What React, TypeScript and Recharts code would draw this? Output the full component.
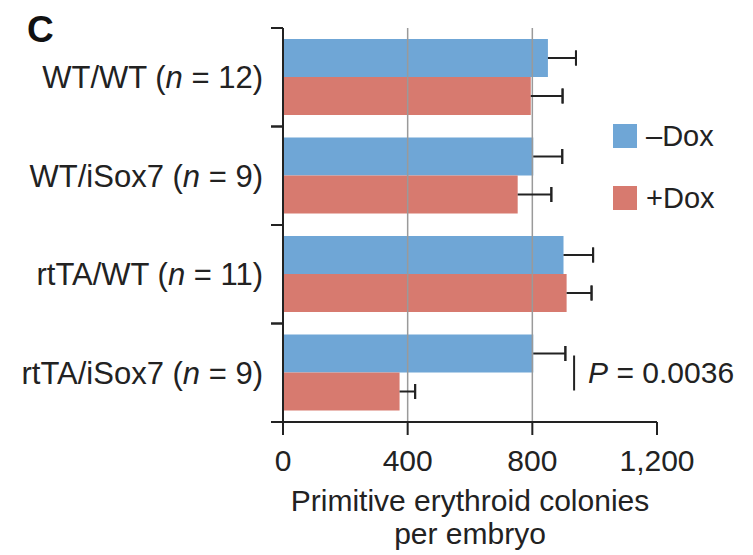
import React from 'react';
import { BarChart, Bar, XAxis, YAxis, ErrorBar, ReferenceLine, Legend, LabelList } from 'recharts';

const groups = ['WT/WT', 'WT/iSox7', 'rtTA/WT', 'rtTA/iSox7'];
const nCounts = [12, 9, 11, 9];
const seriesNames = ['–Dox', '+Dox'];
const minusDox = [850, 803, 900, 803];
const minusDoxErr = [90, 93, 95, 103];
const plusDox = [795, 753, 910, 374];
const plusDoxErr = [102, 108, 80, 50];
const xTicks = [0, 400, 800, 1200];
const gridValues = [400, 800];
const pText = ['', '', '', '0.0036'];
const pMarkX = 934;

const FONT = '"Liberation Sans", Arial, Helvetica, sans-serif';
const BLUE = '#6fa6d6';
const RED = '#d77a6f';
const INK = '#222';

const data = groups.map((group, i) => ({
  group,
  minus: minusDox[i],
  minusLine: [0, minusDoxErr[i]],
  minusCap: [-minusDoxErr[i], minusDoxErr[i]],
  plus: plusDox[i],
  plusLine: [0, plusDoxErr[i]],
  plusCap: [-plusDoxErr[i], plusDoxErr[i]],
  p: pText[i],
}));

function CategoryTick(props: any) {
  const { x, y, payload } = props;
  const i = groups.indexOf(payload.value);
  const half = payload.offset ?? 49;
  const axisX = x + 20;
  return (
    <g>
      <line x1={axisX - 12} x2={axisX} y1={y - half} y2={y - half} stroke={INK} strokeWidth={2} />
      <line x1={axisX - 12} x2={axisX} y1={y + half} y2={y + half} stroke={INK} strokeWidth={2} />
      <text x={x} y={y} dy="0.35em" textAnchor="end" fontSize={31} fill={INK} fontFamily={FONT}>
        <tspan>{payload.value} (</tspan>
        <tspan fontStyle="italic">n</tspan>
        <tspan> = {nCounts[i]})</tspan>
      </text>
    </g>
  );
}

function PLabel(props: any) {
  const { value, index } = props;
  if (!value) return null;
  const vb = props.viewBox ?? props;
  const lx = vb.x + (vb.width / plusDox[index]) * pMarkX;
  return (
    <g>
      <line x1={lx} x2={lx} y1={vb.y - 17} y2={vb.y + 18} stroke={INK} strokeWidth={2} />
      <text x={lx + 14} y={vb.y} dy="0.35em" fontSize={30} fill={INK} fontFamily={FONT}>
        <tspan fontStyle="italic">P</tspan>
        <tspan> = {value}</tspan>
      </text>
    </g>
  );
}

function LegendBox(props: any) {
  const items = [...(props.payload || [])].sort(
    (a: any, b: any) => seriesNames.indexOf(a.value) - seriesNames.indexOf(b.value)
  );
  return (
    <div style={{ fontFamily: FONT }}>
      {items.map((entry: any) => (
        <div key={entry.value} style={{ display: 'flex', alignItems: 'center', height: 24, marginBottom: 38 }}>
          <span style={{ display: 'inline-block', width: 24, height: 24, background: entry.color }} />
          <span style={{ marginLeft: 9, fontSize: 29, color: INK }}>{entry.value}</span>
        </div>
      ))}
    </div>
  );
}

function AxisTitle(props: any) {
  const vb = props.viewBox;
  const cx = vb.x + vb.width / 2;
  return (
    <text x={cx} y={vb.y + 89} textAnchor="middle" fontSize={30} fill={INK} fontFamily={FONT}>
      <tspan x={cx}>Primitive erythroid colonies</tspan>
      <tspan x={cx} dy={33}>per embryo</tspan>
    </text>
  );
}

export default function App() {
  return (
    <div style={{ position: 'absolute', left: 0, top: 0, width: 753, height: 555, background: '#fff', fontFamily: FONT }}>
      <div style={{ position: 'absolute', left: 27, top: 11, fontSize: 37, fontWeight: 'bold', lineHeight: 1, color: '#111' }}>C</div>
      <BarChart
        width={753}
        height={555}
        data={data}
        layout="vertical"
        margin={{ top: 28, right: 96, bottom: 0, left: 0 }}
        barCategoryGap={11}
        barGap={0}
      >
        {gridValues.map((v) => (
          <ReferenceLine key={v} x={v} stroke="#9a9a9a" strokeWidth={1.5} />
        ))}
        <XAxis
          type="number"
          domain={[0, 1200]}
          ticks={xTicks}
          allowDataOverflow
          height={133}
          tickSize={13}
          tickMargin={15}
          tickFormatter={(v: number) => v.toLocaleString('en-US')}
          tick={{ fontSize: 30, fill: INK, fontFamily: FONT }}
          axisLine={{ stroke: INK, strokeWidth: 2 }}
          tickLine={{ stroke: INK, strokeWidth: 2 }}
          label={{ content: AxisTitle }}
        />
        <YAxis
          type="category"
          dataKey="group"
          width={283}
          interval={0}
          tickSize={12}
          tickMargin={8}
          tickLine={false}
          axisLine={{ stroke: INK, strokeWidth: 2 }}
          tick={<CategoryTick />}
        />
        <Legend
          layout="horizontal"
          verticalAlign="middle"
          align="center"
          wrapperStyle={{ left: 613, top: 124, width: 140 }}
          content={LegendBox}
        />
        <Bar dataKey="minus" name={seriesNames[0]} fill={BLUE} isAnimationActive={false}>
          <ErrorBar dataKey="minusLine" direction="x" width={0} stroke={INK} strokeWidth={2} />
          <ErrorBar dataKey="minusCap" direction="x" width={7.5} stroke={INK} strokeWidth={2} />
        </Bar>
        <Bar dataKey="plus" name={seriesNames[1]} fill={RED} isAnimationActive={false}>
          <ErrorBar dataKey="plusLine" direction="x" width={0} stroke={INK} strokeWidth={2} />
          <ErrorBar dataKey="plusCap" direction="x" width={7.5} stroke={INK} strokeWidth={2} />
          <LabelList dataKey="p" content={PLabel} />
        </Bar>
      </BarChart>
    </div>
  );
}
